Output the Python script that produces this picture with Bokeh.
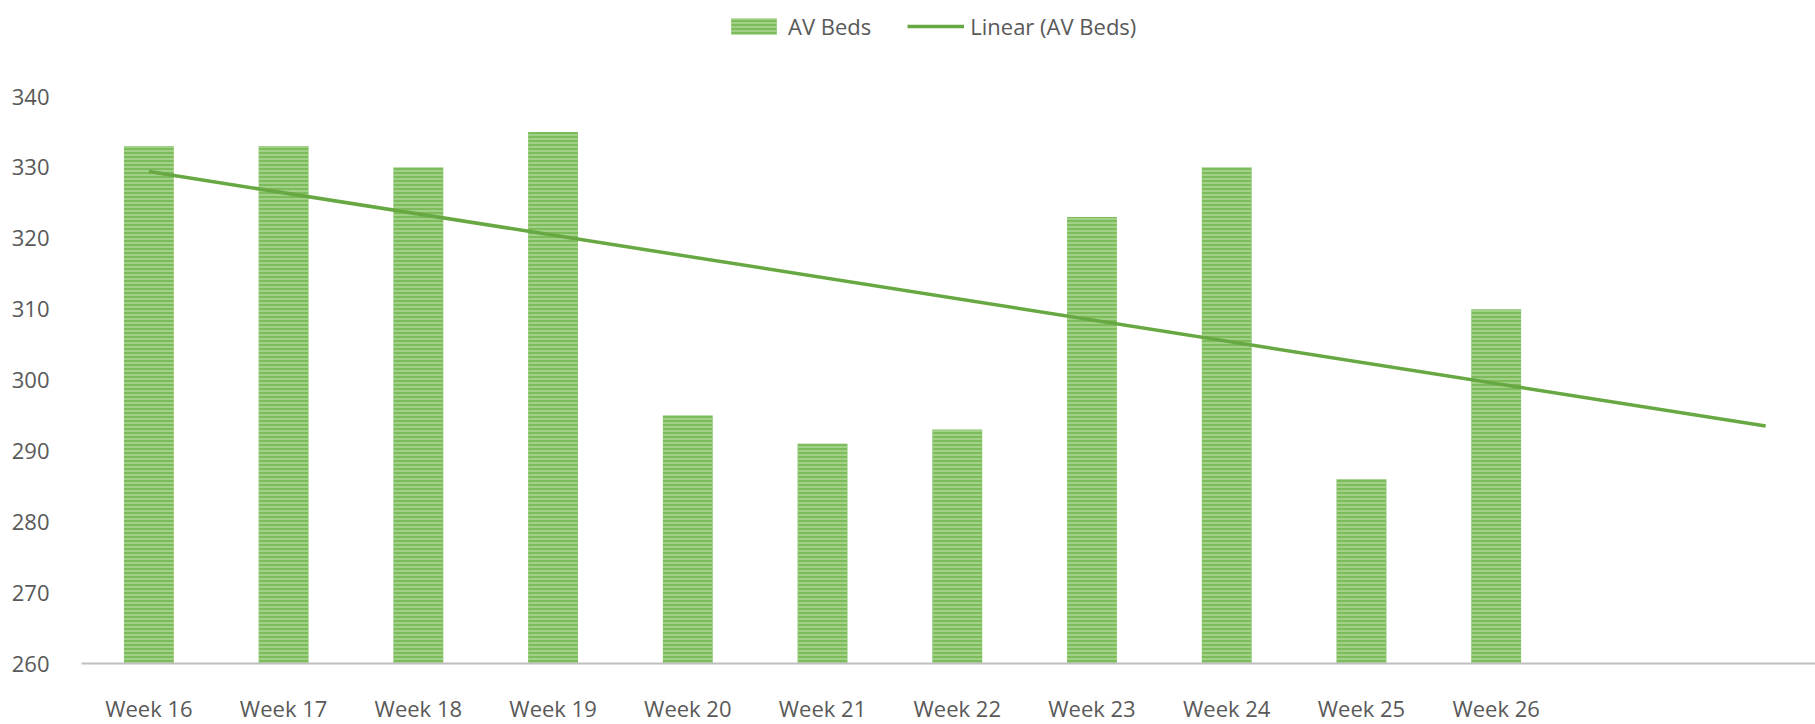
import numpy as np
from bokeh.plotting import figure
from bokeh.models import Range1d, FixedTicker, Legend, LegendItem, ColumnDataSource
from bokeh.embed import file_html
from bokeh.resources import INLINE

# ---- data ----
weeks = ["Week 16", "Week 17", "Week 18", "Week 19", "Week 20", "Week 21",
         "Week 22", "Week 23", "Week 24", "Week 25", "Week 26"]
av_beds = [333, 333, 330, 335, 295, 291, 293, 323, 330, 286, 310]
y_ticks = [260, 270, 280, 290, 300, 310, 320, 330, 340]
forecast_forward = 2  # trendline extended 2 periods

x_pos = list(range(1, len(weeks) + 1))
slope, intercept = np.polyfit(x_pos, av_beds, 1)
trend_x = [1, len(weeks) + forecast_forward]
trend_y = [slope * xx + intercept for xx in trend_x]

FONT = "Open Sans"
TXT = "#595959"

# frame spans from the top of the page; 340 sits 96px below the top
FRAME_H = 663
y_top = 340 + 96 * 80 / 567

p = figure(frame_width=1734, frame_height=FRAME_H,
           min_border_left=81, min_border_right=0, min_border_top=0, min_border_bottom=60,
           x_range=Range1d(0.5, 13.37), y_range=Range1d(260, y_top),
           output_backend="svg", toolbar_location=None, tools="")
p.title.visible = False
p.outline_line_color = None
p.background_fill_color = "white"
p.border_fill_color = "white"
p.xgrid.visible = False
p.ygrid.visible = False

src = ColumnDataSource(dict(x=x_pos, top=av_beds))
bars = p.vbar(x="x", top="top", bottom=260, width=0.37, source=src,
              fill_color="#7cbc5b", line_color=None,
              hatch_pattern="horizontal_line", hatch_color="#badfa5",
              hatch_scale=4, hatch_weight=1.2)
trend = p.line(trend_x, trend_y, line_color="#68a843", line_width=3.5)

# axes
p.xaxis.ticker = FixedTicker(ticks=x_pos)
p.xaxis.major_label_overrides = {i: w for i, w in zip(x_pos, weeks)}
p.xaxis.axis_line_color = "#bfbfbf"
p.xaxis.axis_line_width = 2
p.xaxis.major_tick_line_color = None
p.xaxis.minor_tick_line_color = None
p.xaxis.major_label_standoff = 23
p.xaxis.major_label_text_font = FONT
p.xaxis.major_label_text_font_size = "22px"
p.xaxis.major_label_text_color = TXT

p.yaxis.ticker = FixedTicker(ticks=y_ticks)
p.yaxis.axis_line_color = None
p.yaxis.major_tick_line_color = None
p.yaxis.minor_tick_line_color = None
p.yaxis.major_label_standoff = 26
p.yaxis.major_label_text_font = FONT
p.yaxis.major_label_text_font_size = "22px"
p.yaxis.major_label_text_color = TXT

legend = Legend(items=[LegendItem(label="AV Beds", renderers=[bars]),
                       LegendItem(label="Linear (AV Beds)", renderers=[trend])],
                orientation="horizontal", location=(644, FRAME_H - 41),
                glyph_width=57, glyph_height=20, label_standoff=6, spacing=36,
                padding=0, margin=0, border_line_color=None, background_fill_alpha=0,
                label_text_font=FONT, label_text_font_size="22px", label_text_color=TXT)
p.add_layout(legend, "center")

open("out.html", "w").write(file_html(p, INLINE))
